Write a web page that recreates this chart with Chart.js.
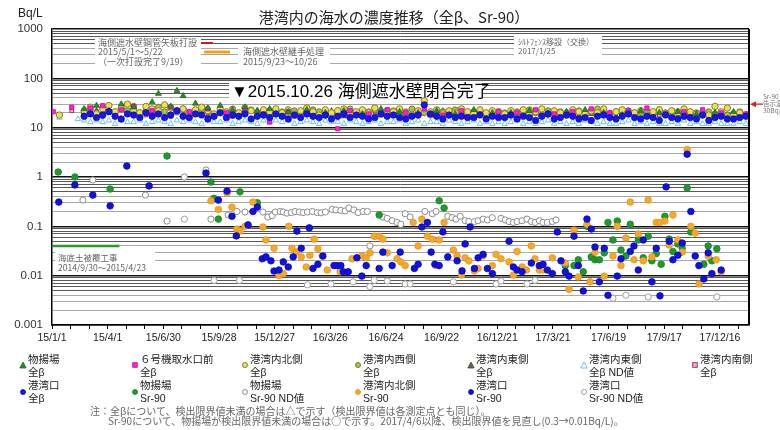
<!DOCTYPE html>
<html lang="ja"><head><meta charset="utf-8">
<script src="https://cdn.jsdelivr.net/npm/chart.js@4.4.1/dist/chart.umd.min.js"></script>
<style>
html,body{margin:0;padding:0;background:#fff;}
#wrap{position:relative;width:780px;height:430px;overflow:hidden;font-family:"Liberation Sans","Noto Sans CJK JP",sans-serif;color:#222;}
#c{position:absolute;left:0;top:0;}
.abs{position:absolute;white-space:nowrap;}
#title{left:0;width:788px;top:8px;text-align:center;font-size:15px;line-height:18px;font-family:"Noto Sans CJK JP",sans-serif;color:#222;}
#unit{left:18px;top:5px;font-size:12px;line-height:16px;color:#222;}
.lg{position:absolute;font-size:10.5px;line-height:13px;white-space:nowrap;color:#222;}
.mk{position:absolute;width:8px;height:8px;}
.fn{position:absolute;font-size:10px;line-height:11px;color:#666;white-space:nowrap;font-family:"Noto Sans CJK JP",sans-serif;}
</style></head><body>
<div id="wrap">
<canvas id="c" width="780" height="430"></canvas>
<div id="title" class="abs">港湾内の海水の濃度推移（全β、Sr-90）</div>
<div id="unit" class="abs">Bq/L</div>
<div id="legend"></div>
<div class="fn" style="left:90px;top:405px">注：全βについて、検出限界値未満の場合は△で示す（検出限界値は各測定点とも同じ）。</div>
<div class="fn" style="left:108px;top:415px">Sr-90について、物揚場が検出限界値未満の場合は○で示す。2017/4/6以降、検出限界値を見直し(0.3→0.01Bq/L)。</div>
</div>
<script>
// ---------- axis ----------
const xMin = '2015-01-01', xMax = '2018-02-01';
const xTickDates = ['2015-01-01','2015-04-01','2015-06-30','2015-09-28','2015-12-27','2016-03-26','2016-06-24','2016-09-22','2016-12-21','2017-03-21','2017-06-19','2017-09-17','2017-12-16'];
const xTickLabels = ['15/1/1','15/4/1','15/6/30','15/9/28','15/12/27','16/3/26','16/6/24','16/9/22','16/12/21','17/3/21','17/6/19','17/9/17','17/12/16'];
const yTickLabels = ['0.001','0.01','0.1','1','10','100','1000'];

// ---------- 全β (common sampling dates) ----------
const betaDates = ['2015-01-03','2015-01-13','2015-01-23','2015-02-02','2015-02-12','2015-02-22','2015-03-04','2015-03-14','2015-03-24','2015-04-03','2015-04-13','2015-04-23','2015-05-03','2015-05-13','2015-05-23','2015-06-02','2015-06-12','2015-06-22','2015-07-02','2015-07-12','2015-07-22','2015-08-01','2015-08-11','2015-08-21','2015-08-31','2015-09-10','2015-09-20','2015-09-30','2015-10-10','2015-10-20','2015-10-30','2015-11-09','2015-11-19','2015-11-29','2015-12-09','2015-12-19','2015-12-29',
'2016-01-08','2016-01-18','2016-01-28','2016-02-07','2016-02-17','2016-02-27','2016-03-08','2016-03-18','2016-03-28','2016-04-07','2016-04-17','2016-04-27','2016-05-07','2016-05-17','2016-05-27','2016-06-06','2016-06-16','2016-06-26','2016-07-06','2016-07-16','2016-07-26','2016-08-05','2016-08-15','2016-08-25','2016-09-04','2016-09-14','2016-09-24','2016-10-04','2016-10-14','2016-10-24','2016-11-03','2016-11-13','2016-11-23','2016-12-03','2016-12-13','2016-12-23',
'2017-01-02','2017-01-12','2017-01-22','2017-02-01','2017-02-11','2017-02-21','2017-03-03','2017-03-13','2017-03-23','2017-04-02','2017-04-12','2017-04-22','2017-05-02','2017-05-12','2017-05-22','2017-06-01','2017-06-11','2017-06-21','2017-07-01','2017-07-11','2017-07-21','2017-07-31','2017-08-10','2017-08-20','2017-08-30','2017-09-09','2017-09-19','2017-09-29','2017-10-09','2017-10-19','2017-10-29','2017-11-08','2017-11-18','2017-11-28','2017-12-08','2017-12-18','2017-12-28',
'2018-01-07','2018-01-17','2018-01-27'];
const n = null;
// 港湾口 全β
const betaMouth = [n,n,n,n,n,
17,19,16,18,21,17,15,19,18,16,20,17,19,16,18,22,17,16,19,18,15,17,20,16,18,17,19,15,17,18,16,19,
17,15,18,16,19,17,16,18,15,17,19,16,18,17,15,16,19,17,18,16,15,17,18,29,19,17,15,18,16,17,16,16,18,15,17,16,
16,18,15,17,16,14,17,19,15,16,18,17,15,16,14,17,18,16,15,17,19,16,15,17,16,14,18,16,15,17,16,15,18,14,16,17,15,
15,16,17];
// 港湾内東側 全β ND値
const betaEastND = [n,16,n,n,15,
14,13,14,13,14,12,14,13,13,14,12,13,14,13,12,14,13,14,13,12,14,13,13,14,12,13,14,13,12,14,13,14,
13,14,12,13,14,13,12,14,13,13,12,14,13,12,13,14,12,13,13,14,12,13,14,12,13,13,12,14,13,12,13,14,12,13,12,13,
12,13,14,12,13,12,13,14,12,13,12,13,12,14,13,12,13,12,12,13,14,12,13,12,13,12,12,13,12,14,12,13,12,12,13,12,12,
12,13,12];
// 港湾内北側 全β
const betaNorth = [n,18,n,n,n,
22,26,19,24,28,21,25,30,23,20,27,24,22,29,25,21,24,20,23,26,22,19,24,21,23,20,25,22,19,23,21,24,
20,23,19,22,25,21,18,23,20,22,24,19,21,23,20,25,19,22,21,24,20,18,22,35,21,23,19,22,20,24,21,19,23,20,22,21,
19,22,20,23,18,21,24,19,22,20,18,23,21,19,22,20,24,18,21,23,19,20,22,18,21,23,19,22,20,24,21,19,20,18,27,21,25,
19,20,18];
// 港湾内西側 全β
const betaWest = [n,n,n,n,n,
20,23,18,25,21,19,24,22,27,20,23,19,26,21,18,22,24,20,19,23,21,18,22,20,24,19,21,23,18,20,22,19,
21,18,22,20,19,23,21,18,20,22,19,24,20,18,21,23,19,20,22,18,21,24,19,20,18,22,21,19,23,20,18,21,22,19,20,21,
20,18,21,19,23,20,18,22,19,21,20,18,22,19,21,24,20,18,21,19,22,20,18,21,19,23,20,18,21,22,19,20,18,21,19,20,18,
19,21,18];
// 港湾内東側 全β
const betaEast = [n,n,n,n,n,
19,n,22,n,24,n,26,n,21,n,23,n,20,n,25,n,19,n,22,n,18,n,21,n,20,n,19,n,22,n,18,n,
20,n,18,n,21,n,19,n,22,n,17,n,20,n,19,n,18,n,21,n,19,n,20,n,18,n,22,n,19,n,17,n,20,n,18,n,
19,n,18,n,20,n,17,n,19,n,21,n,18,n,19,n,20,n,17,n,22,n,18,n,19,n,20,n,17,n,19,n,18,n,20,n,18,
n,19,n];
// 港湾内南側 全β
const betaSouth = [n,n,n,22,n,
18,n,21,17,n,20,n,19,23,n,18,n,21,n,17,20,n,19,n,22,n,18,n,20,17,n,19,n,21,n,18,n,
19,n,17,n,20,n,18,21,n,19,n,17,n,20,n,18,n,22,n,19,n,17,n,20,n,18,n,21,n,19,n,17,n,20,n,18,
n,19,n,17,n,20,n,18,n,19,n,21,n,17,n,18,n,20,n,19,n,17,n,22,n,18,n,19,n,20,n,17,n,18,n,19,n,
17,n,18];
// ６号機取水口前 全β
const betaUnit6 = [21,n,n,26,n,
n,25,n,28,n,n,23,n,27,n,n,22,n,n,26,n,n,21,n,n,24,n,n,20,n,n,23,n,n,19,13,n,
n,21,n,n,20,n,n,n,n,9.5,n,22,n,n,19,n,n,23,n,n,20,n,n,24,n,n,18,n,n,22,n,n,19,n,n,21,
n,n,20,n,n,23,n,n,19,n,n,21,n,n,24,n,n,20,n,n,22,n,n,25,n,n,19,n,n,21,n,n,23,n,n,20,n,
n,n,19];
// 物揚場 全β
const betaWharf = [n,n,n,n,n,
24,n,28,n,22,n,30,n,26,n,n,33,49,n,27,56,44,n,31,n,25,n,28,n,23,n,26,n,22,n,24,n,
n,21,n,n,23,n,n,20,n,n,22,n,n,19,n,n,24,n,n,21,n,n,20,n,n,22,n,n,19,n,n,23,n,n,20,n,
n,20,n,n,22,n,n,19,n,n,21,n,n,23,n,n,20,n,n,18,n,n,22,n,n,20,n,n,21,n,n,19,n,n,20,n,n,
21,n,n];

// ---------- Sr-90 ----------
const srWharfDates = ['2015-01-11','2015-02-07','2015-04-05','2015-07-06','2015-09-15','2015-09-20','2015-09-27','2015-11-01','2015-11-29','2016-06-13','2016-09-18','2016-09-26','2017-04-10','2017-04-24','2017-05-01','2017-05-09','2017-05-15','2017-05-22','2017-05-28','2017-06-04','2017-06-12','2017-06-18','2017-06-26','2017-07-03','2017-07-09','2017-07-17','2017-07-24','2017-08-06','2017-08-14','2017-08-22','2017-08-28','2017-09-04','2017-09-12','2017-09-18','2017-09-25','2017-10-01','2017-10-09','2017-10-16','2017-10-24','2017-10-30','2017-11-20','2017-11-27','2017-12-03','2017-12-11'];
const srWharf = [1.26,1.0,0.57,2.66,0.79,0.37,0.14,0.5,0.3,0.17,0.33,0.235,0.016,0.016,0.021,0.012,0.1,0.024,0.021,0.021,0.029,0.12,0.053,0.128,0.033,0.025,0.11,0.053,0.023,0.063,0.02,0.028,0.017,0.16,0.055,0.031,0.044,0.036,0.6,0.077,0.017,0.04,0.02,0.035];

const srWharfNDDates = ['2015-02-20','2015-03-08','2015-06-01','2015-07-06','2015-08-03','2015-09-07','2015-09-15','2015-10-13','2015-10-27','2015-11-09','2015-12-08','2015-12-16','2015-12-23','2015-12-28',
'2016-01-05','2016-01-10','2016-01-16','2016-01-23','2016-01-29','2016-02-05','2016-02-11','2016-02-18','2016-02-26','2016-03-05','2016-03-11','2016-03-18','2016-03-29','2016-04-04','2016-04-12','2016-04-19','2016-04-25','2016-05-03','2016-05-10','2016-05-18','2016-05-25','2016-05-29','2016-06-06','2016-06-19','2016-06-26','2016-07-04','2016-07-12','2016-07-18','2016-07-25','2016-08-02','2016-08-26','2016-09-07','2016-09-13','2016-10-02','2016-10-09','2016-10-15','2016-10-22','2016-10-30','2016-11-05','2016-11-14','2016-11-20','2016-11-28','2016-12-05','2016-12-13','2016-12-27',
'2017-01-03','2017-01-09','2017-01-16','2017-01-22','2017-01-30','2017-02-07','2017-02-14','2017-02-20','2017-02-27','2017-03-05','2017-03-12','2017-03-20','2017-03-26'];
const srWharfND = [0.34,0.87,0.43,0.128,1.0,1.39,0.14,0.17,0.2,0.195,0.195,0.154,0.165,0.195,
0.2,0.195,0.185,0.19,0.2,0.195,0.19,0.195,0.2,0.19,0.188,0.195,0.22,0.215,0.21,0.205,0.235,0.215,0.19,0.2,0.2,0.04,0.063,0.154,0.145,0.13,0.12,0.11,0.18,0.155,0.2,0.18,0.2,0.16,0.15,0.14,0.16,0.13,0.125,0.125,0.13,0.14,0.135,0.15,0.145,
0.135,0.125,0.12,0.125,0.13,0.14,0.125,0.12,0.13,0.12,0.12,0.125,0.135];

const srNorthDates = ['2015-09-15','2015-09-27','2015-10-11','2015-10-19','2015-10-27','2015-11-01','2015-11-09','2015-11-22','2015-12-08','2015-12-13','2015-12-26',
'2016-01-03','2016-01-10','2016-01-19','2016-01-24','2016-01-31','2016-02-08','2016-02-16','2016-02-22','2016-02-29','2016-03-06','2016-03-13','2016-03-21','2016-04-11','2016-04-30','2016-05-16','2016-05-23','2016-05-29','2016-06-05','2016-06-13','2016-06-19','2016-06-26','2016-07-12','2016-07-18','2016-07-25','2016-08-07','2016-08-15','2016-08-21','2016-08-30','2016-09-07','2016-09-13','2016-09-18','2016-09-26','2016-10-11','2016-10-17','2016-10-24','2016-10-30','2016-11-05','2016-11-14','2016-11-20','2016-11-28','2016-12-13','2016-12-19','2016-12-27',
'2017-01-09','2017-01-16','2017-01-22','2017-01-30','2017-02-06','2017-02-14','2017-02-20','2017-02-27','2017-03-05','2017-03-20','2017-04-10','2017-04-16','2017-04-24','2017-05-01','2017-05-15','2017-05-20','2017-05-28','2017-06-12','2017-06-26','2017-07-03','2017-07-09','2017-07-17','2017-07-24','2017-07-30','2017-08-06','2017-08-14','2017-08-22','2017-08-28','2017-09-04','2017-09-10','2017-09-18','2017-09-25','2017-10-01','2017-10-09','2017-10-16','2017-10-24','2017-10-30','2017-11-06','2017-11-12','2017-11-27','2017-12-10','2017-12-18'];
const srNorth = [0.33,0.22,0.47,0.245,0.088,0.08,0.1,0.31,0.097,0.053,0.036,
0.01,0.011,0.1,0.036,0.03,0.024,0.015,0.026,0.055,0.035,0.025,0.013,0.012,0.022,0.025,0.023,0.029,0.063,0.063,0.055,0.029,0.022,0.019,0.016,0.12,0.04,0.14,0.063,0.055,0.016,0.053,0.12,0.033,0.025,0.0103,0.023,0.02,0.0125,0.014,0.025,0.016,0.027,0.022,
0.019,0.0103,0.031,0.015,0.013,0.04,0.022,0.013,0.013,0.023,0.018,0.0053,0.084,0.0094,0.11,0.0075,0.03,0.0098,0.025,0.1,0.016,0.058,0.31,0.021,0.07,0.02,0.34,0.024,0.12,0.12,0.128,0.042,0.17,0.053,0.03,3.6,0.1,0.073,0.0068,0.025,0.021,0.012];

const srMouthDates = ['2015-01-12','2015-02-07','2015-03-08','2015-04-05','2015-05-02','2015-06-07','2015-09-07','2015-09-27','2015-10-11','2015-10-19','2015-10-26','2015-11-14','2015-11-22','2015-11-29','2015-12-07','2015-12-13','2015-12-21','2015-12-26',
'2016-01-03','2016-01-10','2016-01-18','2016-01-26','2016-02-01','2016-02-08','2016-02-21','2016-02-27','2016-03-06','2016-03-14','2016-04-01','2016-04-06','2016-04-12','2016-04-16','2016-04-24','2016-05-08','2016-05-16','2016-05-23','2016-06-13','2016-06-19','2016-07-04','2016-07-17','2016-08-09','2016-08-15','2016-08-21','2016-08-30','2016-09-05','2016-09-11','2016-09-18','2016-09-24','2016-10-02','2016-10-17','2016-10-25','2016-10-30','2016-11-07','2016-11-14','2016-11-20','2016-11-28','2016-12-05','2016-12-13',
'2017-01-09','2017-01-16','2017-01-22','2017-01-30','2017-02-14','2017-02-27','2017-03-05','2017-03-12','2017-03-20','2017-03-28','2017-04-03','2017-04-10','2017-04-16','2017-04-24','2017-05-01','2017-05-09','2017-05-15','2017-05-22','2017-05-28','2017-06-04','2017-06-12','2017-06-18','2017-07-03','2017-07-09','2017-07-24','2017-07-30','2017-08-06','2017-08-14','2017-08-28','2017-09-04','2017-09-10','2017-09-20','2017-09-25','2017-10-01','2017-10-09','2017-10-16','2017-10-24','2017-10-30','2017-11-06','2017-11-12','2017-11-20','2017-11-27','2017-12-03','2017-12-18'];
const srMouth = [0.31,0.69,0.43,0.26,1.67,0.66,1.2,0.34,0.52,0.16,0.064,0.107,0.2,0.245,0.022,0.024,0.02,0.0124,
0.013,0.019,0.015,0.024,0.08,0.036,0.093,0.014,0.017,0.025,0.016,0.016,0.016,0.012,0.012,0.023,0.0098,0.016,0.014,0.03,0.016,0.03,0.014,0.017,0.097,0.12,0.03,0.017,0.016,0.077,0.024,0.02,0.0125,0.044,0.097,0.014,0.023,0.027,0.014,0.011,
0.05,0.015,0.013,0.012,0.018,0.016,0.017,0.013,0.011,0.077,0.02,0.012,0.0098,0.063,0.016,0.0049,0.14,0.088,0.038,0.0075,0.036,0.004,0.0098,0.022,0.031,0.04,0.013,0.053,0.0075,0.036,0.0039,0.63,0.05,0.021,0.026,0.046,2.9,0.2,0.025,0.016,0.0086,0.029,0.011,0.013];

const srMouthNDDates = ['2015-08-03','2015-09-20','2015-10-31','2016-02-18','2016-03-27','2016-05-02','2016-05-29','2016-06-05','2016-06-26','2016-07-25','2016-08-02','2016-10-11','2016-12-19','2016-12-27','2017-02-07','2017-02-20','2017-06-26','2017-07-17','2017-08-22','2017-12-11'];
const srMouthND = [0.14,0.008,0.008,0.0065,0.0068,0.0075,0.006,0.008,0.0078,0.0068,0.0068,0.0075,0.0068,0.0078,0.0068,0.008,0.0035,0.004,0.0037,0.0037];

// ---------- events ----------
const coverDates = ['2015-01-01','2015-04-20'];
const coverLevel = [0.04, 0.04];
const limitSr90 = 30;
const noteWall = ['海側遮水壁鋼管矢板打設','2015/5/1〜5/22','（一次打設完了9/19）'];
const noteJoint = ['海側遮水壁継手処理','2015/9/23〜10/26'];
const noteSilt = ['ｼﾙﾄﾌｪﾝｽ移設（交換）','2017/1/25'];
const noteClose = '▼2015.10.26 海側遮水壁閉合完了';
const noteCover = ['海底土被覆工事','2014/9/30〜2015/4/23'];
const noteLimit = ['Sr-90','告示濃度','30Bq/L'];

// ---------- styles ----------
const ST = {
  mouthB:  {ps:'circle',   r:3.2, bg:'#1616e6', bd:'#0c0cc0', bw:0.8},
  wharfB:  {ps:'triangle', r:3.4, bg:'#2a8c2a', bd:'#1c6a1c', bw:0.8},
  unit6B:  {ps:'rect',     r:3.0, bg:'#ff22cc', bd:'#d000a8', bw:0.8},
  northB:  {ps:'circle',   r:3.2, bg:'#ece24c', bd:'#8d7c2a', bw:1},
  westB:   {ps:'circle',   r:3.0, bg:'#a9c148', bd:'#6e7f2c', bw:1},
  southB:  {ps:'rect',     r:2.6, bg:'#f2b0cc', bd:'#a0356a', bw:1},
  eastB:   {ps:'triangle', r:3.2, bg:'#5a6b55', bd:'#3d4a39', bw:0.8},
  eastND:  {ps:'triangle', r:3.2, bg:'rgba(255,255,255,0.6)', bd:'#6cc0ef', bw:1},
  wharfSr: {ps:'circle',   r:3.3, bg:'#1f9a2a', bd:'#178222', bw:0.8},
  wharfND: {ps:'circle',   r:3.1, bg:'#ffffff', bd:'#8c8c8c', bw:1},
  northSr: {ps:'circle',   r:3.3, bg:'#f6a82a', bd:'#e39515', bw:0.8},
  mouthSr: {ps:'circle',   r:3.3, bg:'#1010e0', bd:'#0a0ab8', bw:0.8},
  mouthND: {ps:'circle',   r:3.1, bg:'#ffffff', bd:'#a0a0a0', bw:1}
};

const ts = s => Date.parse(s);
function pts(dates, vals){ const o=[]; for(let i=0;i<dates.length;i++){ if(vals[i]!=null) o.push({x:ts(dates[i]), y:vals[i]}); } return o; }
function ds(label, key, dates, vals){
  const s = ST[key];
  return {label, data:pts(dates, vals), pointStyle:s.ps, pointRadius:s.r, backgroundColor:s.bg, borderColor:s.bd, borderWidth:s.bw, showLine:false};
}

const datasets = [
  ds('港湾口 Sr-90','mouthSr', srMouthDates, srMouth),
  ds('港湾内北側 Sr-90','northSr', srNorthDates, srNorth),
  ds('物揚場 Sr-90','wharfSr', srWharfDates, srWharf),
  ds('物揚場 Sr-90 ND値','wharfND', srWharfNDDates, srWharfND),
  ds('港湾口 Sr-90 ND値','mouthND', srMouthNDDates, srMouthND),
  ds('港湾口 全β','mouthB', betaDates, betaMouth),
  ds('物揚場 全β','wharfB', betaDates, betaWharf),
  ds('６号機取水口前 全β','unit6B', betaDates, betaUnit6),
  ds('港湾内北側 全β','northB', betaDates, betaNorth),
  ds('港湾内西側 全β','westB', betaDates, betaWest),
  ds('港湾内南側 全β','southB', betaDates, betaSouth),
  ds('港湾内東側 全β','eastB', betaDates, betaEast),
  ds('港湾内東側 全β ND値','eastND', betaDates, betaEastND),
  {label:'海底土被覆工事', type:'line', data:pts(coverDates, coverLevel), showLine:true, borderColor:'#2a9a2a', borderWidth:2.5, pointRadius:0, fill:false}
];

function isDecade(v){ const e=Math.log10(v); return Math.abs(e-Math.round(e))<1e-6; }
function mant(v){ const e=Math.floor(Math.log10(v)+1e-9); return Math.round(v/Math.pow(10,e)); }

const annot = {
  id:'annot',
  beforeDatasetsDraw(chart){
    const c = chart.ctx; c.save();
    c.fillStyle = '#fff';
    c.fillRect(95,37,106,30); c.fillRect(238,47,92,21); c.fillRect(514,36,88,21);
    c.fillRect(229,83,253,18); c.fillRect(55,251,100,23);
    c.textBaseline='middle'; c.textAlign='left';
    c.fillStyle='#666'; c.font='9px "Noto Sans CJK JP"';
    c.fillText(noteWall[0],98,43); c.fillText(noteWall[1],98,52); c.fillText(noteWall[2],98,62);
    c.fillText(noteJoint[0],243,52); c.fillText(noteJoint[1],243,62);
    c.font='8px "Noto Sans CJK JP"';
    c.fillText(noteSilt[0],518,42); c.fillText(noteSilt[1],518,51);
    c.font='8.5px "Noto Sans CJK JP"';
    c.fillText(noteCover[0],58,258); c.fillText(noteCover[1],58,268);
    c.lineCap='butt';
    c.strokeStyle='#d01818'; c.lineWidth=2; c.beginPath(); c.moveTo(201,43); c.lineTo(213,43); c.stroke();
    c.strokeStyle='#f4a020'; c.lineWidth=3; c.beginPath(); c.moveTo(204,52); c.lineTo(230,52); c.stroke();
    c.fillStyle='#000'; c.font='17px "Liberation Sans","Noto Sans CJK JP"';
    c.fillText(noteClose,231,92);
    c.restore();
  },
  afterDraw(chart){
    const c = chart.ctx, a = chart.chartArea, y = chart.scales.y.getPixelForValue(limitSr90);
    c.save();
    c.strokeStyle='#000'; c.lineWidth=2; c.beginPath(); c.moveTo(a.right, a.top); c.lineTo(a.right, a.bottom); c.stroke();
    c.strokeStyle='#e02020'; c.fillStyle='#e02020'; c.lineWidth=1.3;
    c.beginPath(); c.moveTo(a.right+5, y); c.lineTo(a.right+14, y); c.stroke();
    c.beginPath(); c.moveTo(a.right+1, y); c.lineTo(a.right+7, y-3); c.lineTo(a.right+7, y+3); c.closePath(); c.fill();
    c.fillStyle='#777'; c.font='6.5px "Noto Sans CJK JP"'; c.textBaseline='middle';
    c.fillText(noteLimit[0], a.right+14, y-8); c.fillText(noteLimit[1], a.right+14, y-1); c.fillText(noteLimit[2], a.right+14, y+6);
    c.restore();
  }
};

new Chart(document.getElementById('c'), {
  type:'scatter',
  data:{datasets},
  plugins:[annot],
  options:{
    responsive:false, animation:false, devicePixelRatio:1,
    layout:{padding:{left:0,right:31,top:29,bottom:75}},
    plugins:{legend:{display:false}, tooltip:{enabled:false}, title:{display:false}},
    scales:{
      x:{
        type:'linear', min:ts(xMin), max:ts(xMax),
        afterBuildTicks: sc => { const t=[]; xTickDates.forEach(d=>{ const b=ts(d); for(let k=0;k<3;k++){ const v=b+k*30*864e5; if(v<=sc.max) t.push({value:v}); } }); sc.ticks=t; },
        afterFit: sc => { sc.height = 30; },
        ticks:{ autoSkip:false, maxRotation:0, minRotation:0, padding:3, color:'#222', font:{family:'"Liberation Sans", Arial', size:10.5},
          callback: v => { const i = xTickDates.findIndex(d=>ts(d)===v); return i>=0 ? xTickLabels[i] : ''; } },
        grid:{ drawOnChartArea:false, drawTicks:true, tickLength:4, tickColor:'#000', tickWidth:1 },
        border:{ color:'#000', width:1.5 }
      },
      y:{
        type:'logarithmic', min:0.001, max:1000,
        afterBuildTicks: sc => { const t=[]; for(let e=-3;e<=3;e++){ for(let m=1;m<=9;m++){ const v=Number((m*Math.pow(10,e)).toPrecision(3)); if(v>1000) break; t.push({value:v}); } } sc.ticks=t; },
        afterFit: sc => { sc.width = 52; },
        ticks:{ autoSkip:false, padding:9, color:'#333', font:{family:'"Liberation Sans", Arial', size:11.5},
          callback: v => isDecade(v) ? yTickLabels[Math.round(Math.log10(v))+3] : '' },
        grid:{ drawTicks:false,
          color: ctx => { const v=ctx.tick.value; if(isDecade(v)) return '#111'; const m=mant(v); return m>=5 ? '#5a5a5a' : '#a8a8a8'; },
          lineWidth: ctx => isDecade(ctx.tick.value) ? 1.4 : 1 },
        border:{ color:'#000', width:1.5 }
      }
    }
  }
});

// ---------- legend (HTML) ----------
const legendItems = [
  ['wharfB','物揚場','全β'],['unit6B','６号機取水口前','全β'],['northB','港湾内北側','全β'],['westB','港湾内西側','全β'],['eastB','港湾内東側','全β'],['eastND','港湾内東側','全β ND値'],['southB','港湾内南側','全β'],
  ['mouthB','港湾口','全β'],['wharfSr','物揚場','Sr-90'],['wharfND','物揚場','Sr-90 ND値'],['northSr','港湾内北側','Sr-90'],['mouthSr','港湾口','Sr-90'],['mouthND','港湾口','Sr-90 ND値']
];
const legendColX = [23,135,245,358,471,584,695];
const legendRowY = [359,385.5];
const lg = document.getElementById('legend');
legendItems.forEach((it,i)=>{
  const row = i<7?0:1, col = i<7?i:i-7;
  const s = ST[it[0]], cx = legendColX[col], cy = legendRowY[row];
  let shape;
  if(s.ps==='triangle') shape = `<polygon points="4,1 7.2,7 0.8,7" fill="${s.bg}" stroke="${s.bd}" stroke-width="${s.bw}"/>`;
  else if(s.ps==='rect') shape = `<rect x="1.7" y="1.7" width="4.6" height="4.6" fill="${s.bg}" stroke="${s.bd}" stroke-width="${s.bw}"/>`;
  else shape = `<circle cx="4" cy="4" r="2.5" fill="${s.bg}" stroke="${s.bd}" stroke-width="${s.bw}"/>`;
  const m = document.createElement('div'); m.className='mk'; m.style.left=(cx-4)+'px'; m.style.top=(cy-4)+'px';
  m.innerHTML = `<svg width="8" height="8" viewBox="0 0 8 8">${shape}</svg>`;
  lg.appendChild(m);
  const t = document.createElement('div'); t.className='lg'; t.style.left=(cx+5)+'px'; t.style.top=(cy-6.5)+'px';
  t.innerHTML = it[1] + '<br>' + it[2];
  lg.appendChild(t);
});
</script>
</body></html>
